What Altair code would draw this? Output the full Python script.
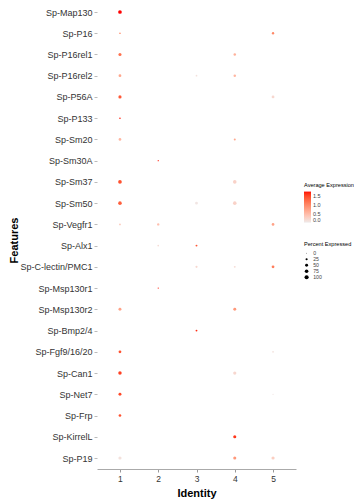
import altair as alt
import pandas as pd

features = [
    "Sp-Map130", "Sp-P16", "Sp-P16rel1", "Sp-P16rel2", "Sp-P56A", "Sp-P133",
    "Sp-Sm20", "Sp-Sm30A", "Sp-Sm37", "Sp-Sm50", "Sp-Vegfr1", "Sp-Alx1",
    "Sp-C-lectin/PMC1", "Sp-Msp130r1", "Sp-Msp130r2", "Sp-Bmp2/4",
    "Sp-Fgf9/16/20", "Sp-Can1", "Sp-Net7", "Sp-Frp", "Sp-KirrelL", "Sp-P19",
]

dot_feature = [
    "Sp-Map130",
    "Sp-P16", "Sp-P16",
    "Sp-P16rel1", "Sp-P16rel1",
    "Sp-P16rel2", "Sp-P16rel2", "Sp-P16rel2",
    "Sp-P56A", "Sp-P56A",
    "Sp-P133",
    "Sp-Sm20", "Sp-Sm20",
    "Sp-Sm30A",
    "Sp-Sm37", "Sp-Sm37",
    "Sp-Sm50", "Sp-Sm50", "Sp-Sm50",
    "Sp-Vegfr1", "Sp-Vegfr1", "Sp-Vegfr1",
    "Sp-Alx1", "Sp-Alx1",
    "Sp-C-lectin/PMC1", "Sp-C-lectin/PMC1", "Sp-C-lectin/PMC1",
    "Sp-Msp130r1",
    "Sp-Msp130r2", "Sp-Msp130r2",
    "Sp-Bmp2/4",
    "Sp-Fgf9/16/20", "Sp-Fgf9/16/20",
    "Sp-Can1", "Sp-Can1",
    "Sp-Net7", "Sp-Net7",
    "Sp-Frp",
    "Sp-KirrelL",
    "Sp-P19", "Sp-P19", "Sp-P19",
]
dot_ident = [
    1,
    1, 5,
    1, 4,
    1, 3, 4,
    1, 5,
    1,
    1, 4,
    2,
    1, 4,
    1, 3, 4,
    1, 2, 5,
    2, 3,
    3, 4, 5,
    2,
    1, 4,
    3,
    1, 5,
    1, 4,
    1, 5,
    1,
    4,
    1, 4, 5,
]
dot_pct = [
    80,
    15, 30,
    55, 35,
    45, 15, 35,
    60, 45,
    12,
    40, 22,
    6,
    78, 75,
    75, 45, 75,
    20, 30, 40,
    15, 20,
    25, 20, 45,
    6,
    50, 50,
    18,
    45, 15,
    70, 60,
    50, 6,
    40,
    55,
    60, 55, 60,
]
dot_avg = [
    1.75,
    0.85, 1.0,
    1.2, 0.6,
    0.7, 0.1, 0.55,
    1.4, 0.2,
    1.7,
    0.55, 0.7,
    1.7,
    1.45, 0.25,
    1.35, 0.05, 0.25,
    0.3, 0.45, 0.75,
    0.15, 1.4,
    0.2, 0.15, 1.1,
    1.7,
    0.75, 0.85,
    1.65,
    1.45, 0.1,
    1.55, 0.2,
    1.5, 0.05,
    1.45,
    1.6,
    0.1, 0.85, 0.3,
]

df = pd.DataFrame({
    "Features": dot_feature,
    "Identity": dot_ident,
    "Percent Expressed": dot_pct,
    "Average Expression": dot_avg,
})

FONT = "Liberation Sans"

chart = alt.Chart(df).mark_circle(opacity=1).encode(
    x=alt.X("Identity:Q",
            scale=alt.Scale(domain=[0.4, 5.6], nice=False, zero=False),
            axis=alt.Axis(values=[1, 2, 3, 4, 5], format="d", grid=False,
                          title="Identity", titleFontSize=11, titleFontWeight="bold",
                          titleColor="#000", titlePadding=5,
                          labelFontSize=8.5, labelColor="#333", labelPadding=2,
                          tickSize=3, tickColor="#999", domainColor="#aaa",
                          labelFont=FONT, titleFont=FONT)),
    y=alt.Y("Features:N", sort=features,
            scale=alt.Scale(type="point", range=[4, 450], padding=0),
            axis=alt.Axis(title="Features", titleFontSize=11, titleFontWeight="bold",
                          titleColor="#000", titleX=-78, titleY=232,
                          titleAngle=-90, titleBaseline="bottom", titleAlign="center",
                          labelFontSize=9, labelColor="#333", labelPadding=2,
                          tickSize=3, tickColor="#bbb", domain=False, grid=False,
                          labelFont=FONT, titleFont=FONT)),
    color=alt.Color("Average Expression:Q",
                    scale=alt.Scale(domain=[0, 1.75], range=["#eeeaea", "#ff0000"],
                                    interpolate="lab"),
                    legend=alt.Legend(orient="none", legendX=207, legendY=175,
                                      direction="vertical",
                                      values=[0, 0.5, 1.0, 1.5], format=".1f",
                                      gradientLength=31, gradientThickness=7,
                                      titleFontSize=5.6, titleFontWeight="normal",
                                      titleColor="#000", labelFontSize=5.5,
                                      labelColor="#444", titlePadding=3,
                                      titleLimit=60,
                                      labelFont=FONT, titleFont=FONT)),
    size=alt.Size("Percent Expressed:Q",
                  scale=alt.Scale(domain=[0, 100], range=[0.5, 17]),
                  legend=alt.Legend(orient="none", legendX=207, legendY=234,
                                    values=[0, 25, 50, 75, 100],
                                    symbolFillColor="#000", symbolStrokeColor="#000",
                                    symbolStrokeWidth=0, symbolOpacity=1,
                                    symbolType="circle", rowPadding=0,
                                    titleFontSize=5.6, titleFontWeight="normal",
                                    titleColor="#000", labelFontSize=5.2,
                                    labelColor="#444", titlePadding=3,
                                    titleLimit=60,
                                    labelFont=FONT, titleFont=FONT)),
).properties(
    width=199,
    height=461,
    padding={"left": 89, "top": 0, "right": 58, "bottom": 31},
    autosize=alt.AutoSizeParams(type="none"),
).configure_view(stroke=None)

chart.save("out.html", embed_options={"renderer": "svg", "actions": False})
